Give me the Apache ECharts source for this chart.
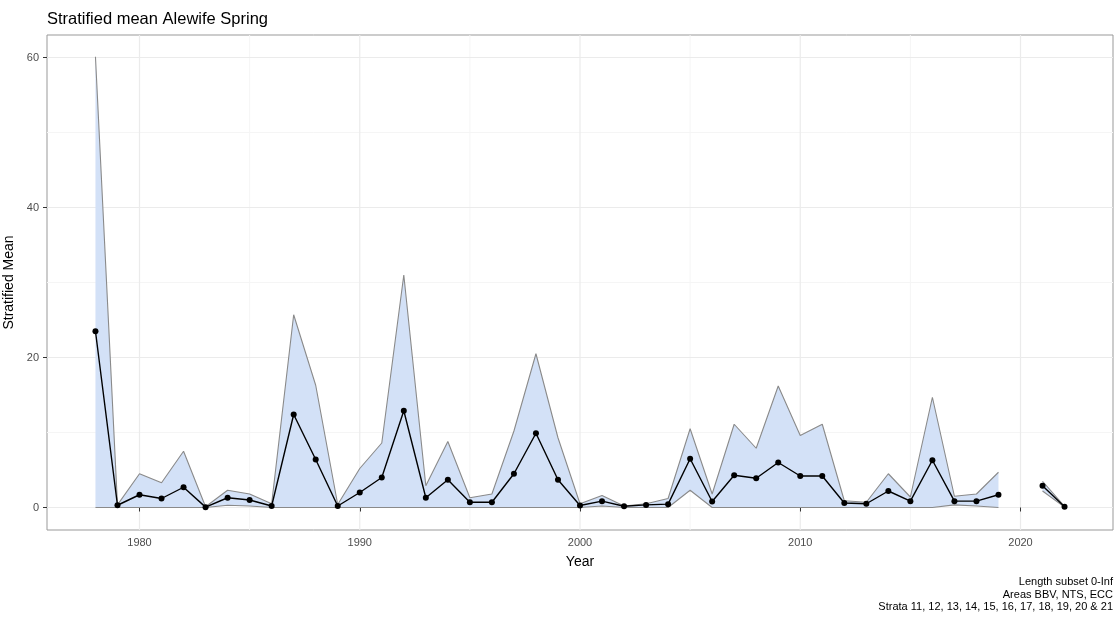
<!DOCTYPE html>
<html>
<head>
<meta charset="utf-8">
<script src="https://cdn.jsdelivr.net/npm/echarts@6/dist/echarts.min.js"></script>
<style>
  html, body { margin: 0; padding: 0; background: #fff; }
  #chart { width: 1116px; height: 620px; }
</style>
</head>
<body>
<div id="chart"></div>
<script>
  // survey years (2020 has no survey)
  var years = [1978, 1979, 1980, 1981, 1982, 1983, 1984, 1985, 1986, 1987, 1988, 1989,
               1990, 1991, 1992, 1993, 1994, 1995, 1996, 1997, 1998, 1999, 2000, 2001,
               2002, 2003, 2004, 2005, 2006, 2007, 2008, 2009, 2010, 2011, 2012, 2013,
               2014, 2015, 2016, 2017, 2018, 2019, 2020, 2021, 2022];
  var meanVals = [23.5, 0.3, 1.7, 1.2, 2.7, 0.05, 1.3, 1.0, 0.2, 12.4, 6.4, 0.2,
                  2.0, 4.0, 12.9, 1.3, 3.7, 0.7, 0.7, 4.5, 9.9, 3.7, 0.27, 0.85,
                  0.17, 0.35, 0.45, 6.5, 0.8, 4.3, 3.9, 6.0, 4.2, 4.2, 0.6, 0.5,
                  2.2, 0.85, 6.3, 0.85, 0.85, 1.7, null, 2.9, 0.1];
  var upperVals = [60.1, 0.35, 4.5, 3.3, 7.5, 0.1, 2.3, 1.8, 0.5, 25.7, 16.3, 0.4,
                   5.2, 8.6, 31.0, 2.9, 8.8, 1.3, 1.8, 10.2, 20.5, 9.3, 0.5, 1.6,
                   0.2, 0.5, 1.2, 10.5, 1.8, 11.1, 7.9, 16.2, 9.6, 11.1, 0.9, 0.7,
                   4.5, 1.4, 14.7, 1.5, 1.8, 4.7, null, 3.5, 0.15];
  var lowerVals = [0, 0, 0, 0, 0, 0, 0.3, 0.2, 0, 0, 0, 0,
                   0, 0, 0, 0, 0, 0, 0, 0, 0, 0, 0, 0.2,
                   0, 0, 0, 2.3, 0, 0, 0, 0, 0, 0, 0, 0,
                   0, 0, 0, 0.35, 0.2, 0, null, 2.2, 0.05];

  var xMajor = [1980, 1990, 2000, 2010, 2020];
  var xMinor = [1985, 1995, 2005, 2015];
  var yMajor = [0, 20, 40, 60];
  var yMinor = [10, 30, 50];

  function pairs(vals) {
    return years.map(function (y, i) { return [y, vals[i] == null ? '-' : vals[i]]; });
  }

  // split the ribbon into runs of consecutive surveyed years
  var runs = [];
  var start = -1;
  years.forEach(function (y, i) {
    if (upperVals[i] != null) {
      if (start < 0) start = i;
    } else if (start >= 0) {
      runs.push([start, i - 1]);
      start = -1;
    }
  });
  if (start >= 0) runs.push([start, years.length - 1]);

  function ribbon(params, api) {
    var run = runs[params.dataIndex];
    var pts = [];
    for (var i = run[0]; i <= run[1]; i++) pts.push(api.coord([years[i], upperVals[i]]));
    for (var j = run[1]; j >= run[0]; j--) pts.push(api.coord([years[j], lowerVals[j]]));
    return {
      type: 'polygon',
      shape: { points: pts },
      style: { fill: '#d3e1f7' }
    };
  }

  // panel grid lines (ggplot style), drawn under the ribbon
  var gridDefs = []
    .concat(xMinor.map(function (v) { return ['x', v, 0]; }))
    .concat(yMinor.map(function (v) { return ['y', v, 0]; }))
    .concat(xMajor.map(function (v) { return ['x', v, 1]; }))
    .concat(yMajor.map(function (v) { return ['y', v, 1]; }));

  function gridLine(params, api) {
    var d = gridDefs[params.dataIndex];
    var cs = params.coordSys;
    var x1, y1, x2, y2;
    if (d[0] === 'x') {
      x1 = x2 = api.coord([d[1], 0])[0];
      y1 = cs.y; y2 = cs.y + cs.height;
    } else {
      y1 = y2 = api.coord([1980, d[1]])[1];
      x1 = cs.x; x2 = cs.x + cs.width;
    }
    return {
      type: 'line',
      shape: { x1: x1, y1: y1, x2: x2, y2: y2 },
      style: { stroke: d[2] ? '#ebebeb' : '#f5f5f5', lineWidth: d[2] ? 1.2 : 1 }
    };
  }

  var myChart = echarts.init(document.getElementById('chart'));
  var font = 'Liberation Sans, Arial, sans-serif';

  myChart.setOption({
    animation: false,
    textStyle: { fontFamily: font },
    title: {
      text: 'Stratified mean Alewife Spring',
      left: 42, top: 6,
      textStyle: { fontSize: 16.5, fontWeight: 'normal', color: '#000', fontFamily: font }
    },
    graphic: [{
      type: 'text',
      x: 1113, y: 576,
      style: {
        text: 'Length subset 0-Inf\nAreas BBV, NTS, ECC\nStrata 11, 12, 13, 14, 15, 16, 17, 18, 19, 20 & 21',
        align: 'right',
        verticalAlign: 'top',
        font: '11px ' + font,
        lineHeight: 12.5,
        fill: '#000'
      }
    }],
    grid: {
      left: 47, right: 3, top: 35, bottom: 90,
      outerBoundsMode: 'none',
      containLabel: false,
      show: true, borderColor: '#999', borderWidth: 1, backgroundColor: '#fff'
    },
    xAxis: {
      type: 'value',
      min: 1975.8, max: 2024.2,
      name: 'Year', nameLocation: 'middle', nameGap: 25,
      nameTextStyle: { fontSize: 14, color: '#000', fontFamily: font },
      axisLine: { show: false },
      splitLine: { show: false },
      axisTick: { show: true, customValues: xMajor, length: 4, lineStyle: { color: '#333' } },
      axisLabel: {
        customValues: xMajor, color: '#4d4d4d', fontSize: 11, margin: 7, fontFamily: font,
        formatter: function (v) { return String(v); }
      }
    },
    yAxis: {
      type: 'value',
      min: -3, max: 63,
      name: 'Stratified Mean', nameLocation: 'middle', nameGap: 15, nameRotate: 90,
      nameTextStyle: { fontSize: 14, color: '#000', fontFamily: font },
      axisLine: { show: false },
      splitLine: { show: false },
      axisTick: { show: true, customValues: yMajor, length: 4, lineStyle: { color: '#333' } },
      axisLabel: {
        customValues: yMajor, color: '#4d4d4d', fontSize: 11, margin: 8, fontFamily: font,
        formatter: function (v) { return String(v); }
      }
    },
    series: [
      {
        name: 'grid',
        type: 'custom',
        renderItem: gridLine,
        data: gridDefs.map(function (d, k) { return [k]; }),
        silent: true,
        clip: true,
        z: 0
      },
      {
        name: 'ribbon',
        type: 'custom',
        renderItem: ribbon,
        data: runs.map(function (r, k) { return [years[r[0]], k]; }),
        silent: true,
        clip: true,
        z: 1
      },
      {
        name: 'lower',
        type: 'line',
        data: pairs(lowerVals),
        showSymbol: false,
        connectNulls: false,
        lineStyle: { color: '#8a8a8a', width: 1.1 },
        z: 2
      },
      {
        name: 'upper',
        type: 'line',
        data: pairs(upperVals),
        showSymbol: false,
        connectNulls: false,
        lineStyle: { color: '#8a8a8a', width: 1.1 },
        z: 2
      },
      {
        name: 'mean',
        type: 'line',
        data: pairs(meanVals),
        symbol: 'circle',
        symbolSize: 6,
        showSymbol: true,
        connectNulls: false,
        lineStyle: { color: '#000', width: 1.4 },
        itemStyle: { color: '#000' },
        z: 3
      }
    ]
  });

  window.addEventListener('resize', function () {
    myChart.resize();
  });
</script>
</body>
</html>
